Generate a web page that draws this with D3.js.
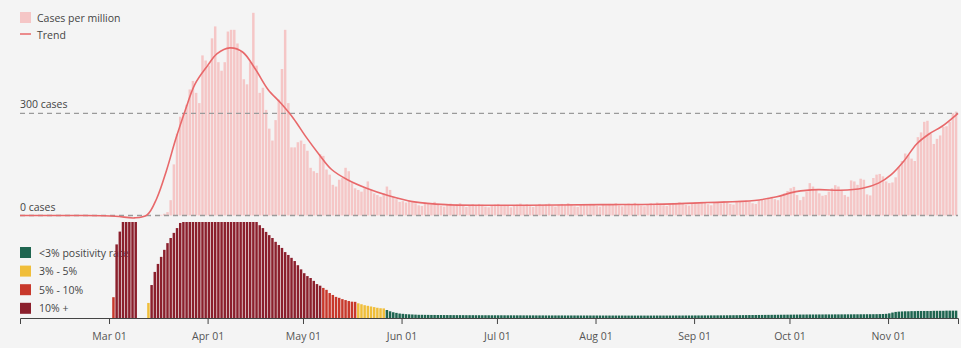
<!DOCTYPE html>
<html>
<head>
<meta charset="utf-8">
<script src="https://cdn.jsdelivr.net/npm/d3@7"></script>
<style>
  body { margin: 0; background: #f4f4f4; }
  svg { display: block; font-family: "Open Sans", "Noto Sans", sans-serif; }
</style>
</head>
<body>
<div id="chart"></div>
<script>
// daily cases per million, starting 2020-03-15
const casesStart = "2020-03-15";
const casesPerMillion = [
  // Mar 15-31
  0, 0, 2, 5, 10, 45, 150, 240, 290, 300, 325, 370, 395, 360, 330, 470, 455,
  // Apr
  440, 520, 555, 450, 425, 450, 540, 545, 545, 505,
  480, 400, 385, 450, 595, 440, 360, 375, 310, 255, 220, 280, 340, 430, 545, 330, 200, 200, 215, 220,
  // May
  210, 190, 140, 130, 125, 180, 175, 135, 120, 90, 85, 105, 110, 140, 130, 95, 80, 75, 70, 80,
  100, 75, 65, 60, 55, 65, 85, 75, 55, 48, 40,
  // Jun
  42, 38, 45, 40, 36, 30, 28, 38, 35, 33, 40, 34, 28, 26, 32, 35, 30, 33, 36, 28,
  25, 30, 33, 31, 34, 32, 26, 24, 30, 32,
  // Jul
  34, 30, 31, 28, 24, 30, 32, 35, 31, 33, 27, 25, 30, 34, 31, 33, 35, 28, 26, 32,
  34, 30, 36, 32, 27, 25, 31, 33, 30, 34, 31,
  // Aug
  28, 26, 32, 30, 34, 32, 36, 29, 27, 33, 35, 31, 37, 34, 29, 27, 33, 36, 34, 38,
  35, 30, 28, 35, 37, 34, 39, 36, 31, 29, 36,
  // Sep
  38, 35, 40, 37, 33, 30, 38, 40, 36, 42, 39, 34, 32, 40, 42, 39, 44, 41, 36, 34,
  45, 48, 46, 52, 55, 48, 45, 58, 65, 72,
  // Oct
  80, 84, 60, 45, 55, 70, 95, 85, 75, 65, 58, 60, 70, 80, 89, 85, 75, 60, 55, 103,
  100, 90, 108, 105, 62, 59, 110, 120, 122, 115, 100,
  // Nov 1-22
  95, 97, 112, 142, 160, 182, 178, 167, 160, 230, 244, 275, 278, 240, 210, 225, 235, 260, 262, 275,
  300, 305
];

// smoothed trend, read at a handful of dates
const trendDates = [
  "2020-02-02", "2020-02-20", "2020-03-03", "2020-03-09", "2020-03-13", "2020-03-16", "2020-03-19",
  "2020-03-22", "2020-03-25", "2020-03-28", "2020-04-01", "2020-04-04", "2020-04-08", "2020-04-12",
  "2020-04-16", "2020-04-20", "2020-04-24", "2020-04-28", "2020-05-02", "2020-05-06", "2020-05-10",
  "2020-05-15", "2020-05-21", "2020-05-28", "2020-06-05", "2020-06-15", "2020-07-01", "2020-07-20",
  "2020-08-05", "2020-08-20", "2020-09-05", "2020-09-20", "2020-09-27", "2020-10-03", "2020-10-10",
  "2020-10-17", "2020-10-24", "2020-10-29", "2020-11-02", "2020-11-06", "2020-11-10", "2020-11-14",
  "2020-11-18", "2020-11-23"
];
const trendValues = [
  0, 0, -2, -7, 2, 50, 130,
  225, 310, 385, 440, 475, 492, 480,
  430, 370, 330, 285, 230, 180, 135,
  105, 80, 58, 40, 32, 30, 31,
  32, 33, 38, 44, 55, 70, 76,
  74, 80, 95, 120, 160, 210, 240,
  262, 300
];

// positivity rate (%), starting 2020-03-02, null = no data
const positivityStart = "2020-03-02";
const positivityRate = [
  // Mar 2-31
  6.5, 23, 27, 35, 35, 35, 35, 35, null, null, null,
  4.7, 10.3, 14.4, 16.9, 19.1, 21.3, 23.4, 25, 26.6, 28.1, 29.7,
  31.5, 33, 35, 37, 38, 40, 41, 42,
  // Apr
  42, 43, 42, 41, 40, 40, 39, 38, 37, 36, 35, 34, 33, 32, 31, 30.5,
  29, 28.1, 26.9, 25.9, 25, 23.8, 22.8, 21.9, 20.6, 19.7, 18.8, 17.8, 16.5, 15.2,
  // May
  14, 13.1, 12.5, 11.6, 10.6, 10.1, 9.4, 8.8, 7.8, 7.2, 6.6, 6.3, 5.9, 5.6, 5.3, 5.1, 5.05,
  4.6, 4.3, 4.0, 3.8, 3.6, 3.4, 3.2, 3.05, 3.0,
  2.5, 2.1, 1.8, 1.6, 1.4,
  // Jun
  1.3, 1.2, 1.15, 1.1, 1.05, 1.0, 1.0, 0.98, 0.97, 0.95, 0.95, 0.94, 0.93, 0.92, 0.92,
  0.91, 0.9, 0.9, 0.9, 0.89, 0.88, 0.88, 0.88, 0.87, 0.87, 0.86, 0.86, 0.86, 0.85, 0.85,
  // Jul
  0.85, 0.85, 0.84, 0.84, 0.84, 0.83, 0.83, 0.83, 0.82, 0.82, 0.82, 0.82, 0.81, 0.81, 0.81,
  0.8, 0.8, 0.8, 0.8, 0.8, 0.8, 0.79, 0.79, 0.79, 0.79, 0.79, 0.78, 0.78, 0.78, 0.78, 0.78,
  // Aug
  0.78, 0.78, 0.77, 0.77, 0.77, 0.77, 0.77, 0.77, 0.77, 0.76, 0.76, 0.76, 0.76, 0.76, 0.76,
  0.76, 0.76, 0.76, 0.77, 0.77, 0.77, 0.77, 0.77, 0.77, 0.78, 0.78, 0.78, 0.78, 0.79, 0.79, 0.79,
  // Sep
  0.8, 0.8, 0.8, 0.81, 0.81, 0.82, 0.82, 0.83, 0.83, 0.84, 0.85, 0.86, 0.87, 0.88, 0.89,
  0.9, 0.91, 0.92, 0.93, 0.94, 0.95, 0.96, 0.97, 0.98, 0.99, 1.0, 1.01, 1.02, 1.03, 1.04,
  // Oct
  1.05, 1.06, 1.07, 1.08, 1.08, 1.09, 1.1, 1.1, 1.1, 1.11, 1.11, 1.12, 1.12, 1.12, 1.13,
  1.13, 1.14, 1.14, 1.15, 1.15, 1.16, 1.16, 1.17, 1.17, 1.18, 1.18, 1.19, 1.2, 1.22, 1.25, 1.3,
  // Nov 1-22
  1.45, 1.7, 1.9, 2.0, 2.05, 2.1, 2.1, 2.15, 2.15, 2.2, 2.2, 2.2, 2.2, 2.2, 2.25,
  2.25, 2.25, 2.25, 2.3, 2.3, 2.3, 2.3
];

const tickDates = ["2020-03-01", "2020-04-01", "2020-05-01", "2020-06-01", "2020-07-01",
  "2020-08-01", "2020-09-01", "2020-10-01", "2020-11-01"];
const caseLegend = ["Cases per million", "Trend"];
const caseGuides = [300, 0];
const rateBands = ["<3% positivity rate", "3% - 5%", "5% - 10%", "10% +"];
const rateCuts = [3, 5, 10];
const rateColors = ["#1f6550", "#f0be3a", "#c8382b", "#8b1f2c"];

const width = 961, height = 348;
const barFill = "#f5c6c6", trendColor = "#e8686a";
const parse = d3.timeParse("%Y-%m-%d");

const svg = d3.select("#chart").append("svg")
  .attr("width", width)
  .attr("height", height);

svg.append("rect").attr("width", width).attr("height", height).attr("fill", "#f4f4f4");

const x = d3.scaleTime()
  .domain([parse("2020-02-02"), parse("2020-11-23")])
  .range([20, 958]);
const yCases = d3.scaleLinear().domain([0, 300]).range([215.5, 113.3]);
const yRate = d3.scaleLinear().domain([0, 30]).range([318, 222]).clamp(true);
const rateColor = d3.scaleThreshold().domain(rateCuts).range(rateColors);

const cases = casesPerMillion.map((v, i) => ({ date: d3.timeDay.offset(parse(casesStart), i), value: v }));
const rates = positivityRate.map((v, i) => ({ date: d3.timeDay.offset(parse(positivityStart), i), value: v }))
  .filter(d => d.value != null);
const trend = trendDates.map((d, i) => ({ date: parse(d), value: trendValues[i] }));

const barW = d => x(d3.timeDay.offset(d.date, 1)) - x(d.date) - 0.7;

// cases bars
svg.append("g").selectAll("rect")
  .data(cases)
  .join("rect")
  .attr("x", d => x(d.date))
  .attr("width", barW)
  .attr("y", d => yCases(d.value))
  .attr("height", d => yCases(0) - yCases(d.value))
  .attr("fill", barFill);

// dashed guide lines
svg.append("g").selectAll("line")
  .data(caseGuides)
  .join("line")
  .attr("x1", 20).attr("x2", 958)
  .attr("y1", d => yCases(d)).attr("y2", d => yCases(d))
  .attr("stroke", "#9a9a9a")
  .attr("stroke-width", 1.3)
  .attr("stroke-dasharray", "5,4");

svg.append("g").selectAll("text")
  .data(caseGuides)
  .join("text")
  .attr("x", 20)
  .attr("y", d => yCases(d) - 5)
  .style("font-size", "10.5px")
  .attr("fill", "#444")
  .text(d => d + " cases");

// trend line
svg.append("path")
  .datum(trend)
  .attr("fill", "none")
  .attr("stroke", trendColor)
  .attr("stroke-width", 1.6)
  .attr("d", d3.line().x(d => x(d.date)).y(d => yCases(d.value)).curve(d3.curveCatmullRom.alpha(0.5)));

// top legend
const legTop = svg.append("g").attr("transform", "translate(20,12)");
legTop.append("rect").attr("width", 11).attr("height", 11).attr("fill", barFill);
legTop.append("line").attr("x1", 0).attr("x2", 11).attr("y1", 22).attr("y2", 22)
  .attr("stroke", trendColor).attr("stroke-width", 1.5);
legTop.selectAll("text")
  .data(caseLegend)
  .join("text")
  .attr("x", 17)
  .attr("y", (d, i) => 9.5 + i * 17)
  .style("font-size", "10.5px")
  .attr("fill", "#444")
  .text(d => d);

// bottom legend (drawn under the bars)
const legBot = svg.append("g").attr("transform", "translate(20,247)");
rateBands.forEach((label, i) => {
  const g = legBot.append("g").attr("transform", `translate(0,${i * 18.6})`);
  g.append("rect").attr("width", 11).attr("height", 11).attr("fill", rateColors[i]);
  g.append("text").attr("x", 19).attr("y", 9.5)
    .style("font-size", "10.5px").attr("fill", "#444").text(label);
});

// positivity bars
svg.append("g").selectAll("rect")
  .data(rates)
  .join("rect")
  .attr("x", d => x(d.date))
  .attr("width", barW)
  .attr("y", d => yRate(d.value))
  .attr("height", d => yRate(0) - yRate(d.value))
  .attr("fill", d => rateColor(d.value));

// axis
const axis = svg.append("g")
  .attr("transform", `translate(0,${yRate(0)})`)
  .call(d3.axisBottom(x)
    .tickValues(tickDates.map(parse))
    .tickFormat(d3.timeFormat("%b %d"))
    .tickSize(6)
    .tickPadding(9));
axis.select(".domain").attr("stroke", "#444");
axis.selectAll(".tick line").attr("stroke", "#444");
axis.selectAll("text").style("font-size", "10.5px").attr("fill", "#555")
  .style("font-family", "'Open Sans', 'Noto Sans', sans-serif");
</script>
</body>
</html>
